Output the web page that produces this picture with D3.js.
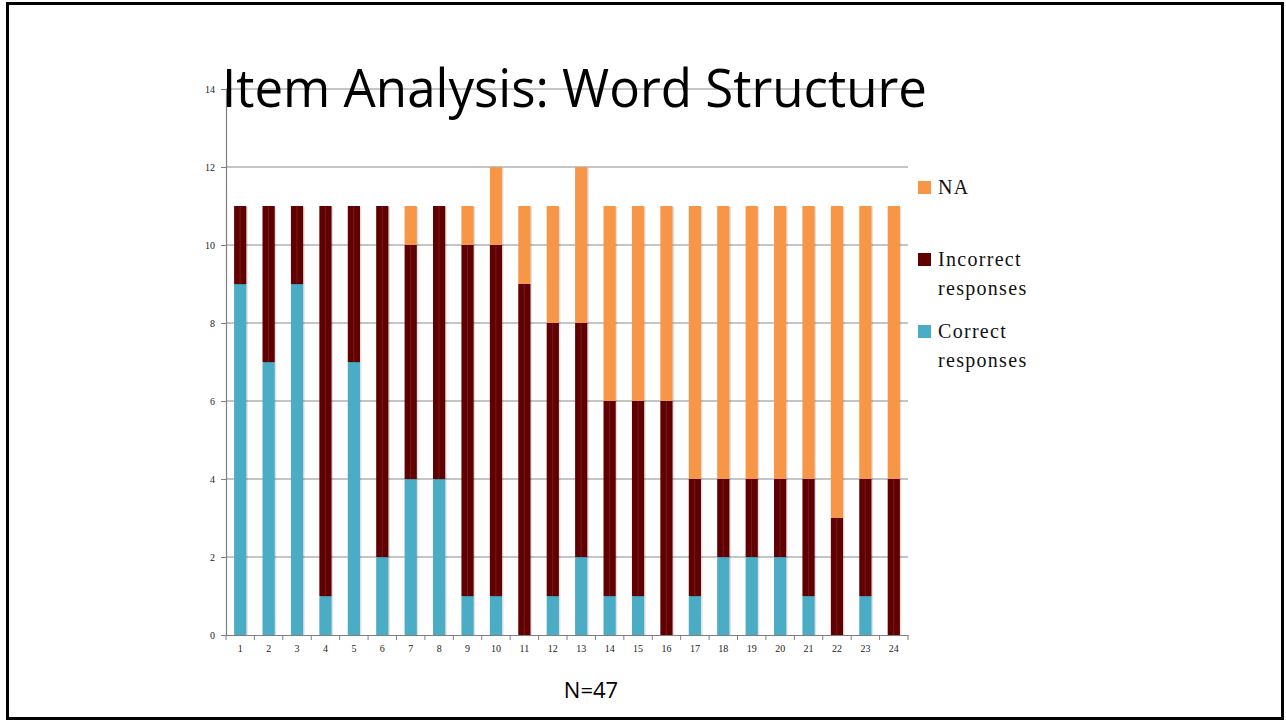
<!DOCTYPE html>
<html>
<head>
<meta charset="utf-8">
<script src="https://cdn.jsdelivr.net/npm/d3@7"></script>
<style>
  html, body { margin: 0; padding: 0; background: #fff; }
  svg { display: block; }
</style>
</head>
<body>
<svg id="chart" width="1286" height="721"></svg>
<script>
// Items on the word-structure test and the response counts for each
const items = ["1","2","3","4","5","6","7","8","9","10","11","12","13","14","15","16","17","18","19","20","21","22","23","24"];
const correct   = [9, 7, 9, 1, 7, 2, 4, 4, 1, 1, 0, 1, 2, 1, 1, 0, 1, 2, 2, 2, 1, 0, 1, 0];
const incorrect = [2, 4, 2, 10, 4, 9, 6, 7, 9, 9, 9, 7, 6, 5, 5, 6, 3, 2, 2, 2, 3, 3, 3, 4];
const na        = [0, 0, 0, 0, 0, 0, 1, 0, 1, 2, 2, 3, 4, 5, 5, 5, 7, 7, 7, 7, 7, 8, 7, 7];
const yTicks = [0, 2, 4, 6, 8, 10, 12, 14];

const seriesKeys   = ["correct", "incorrect", "na"];
const seriesNames  = { na: ["NA"], incorrect: ["Incorrect", "responses"], correct: ["Correct", "responses"] };
const seriesColors = { correct: "#4BACC6", incorrect: "#600000", na: "#F79646" };

const rows = items.map((item, i) => ({ item, correct: correct[i], incorrect: incorrect[i], na: na[i] }));

const svg = d3.select("#chart");

// slide frame
svg.append("rect")
  .attr("x", 7.5).attr("y", 3.5).attr("width", 1275).attr("height", 715)
  .attr("fill", "#fff").attr("stroke", "#000").attr("stroke-width", 3);

const plot = { left: 226, right: 908, top: 89, bottom: 635 };

const x = d3.scaleBand().domain(items).range([plot.left, plot.right]).paddingInner(0.57).paddingOuter(0.285);
const y = d3.scaleLinear().domain([0, 14]).range([plot.bottom, plot.top]);

// horizontal gridlines
svg.append("g").selectAll("line").data(yTicks.filter(d => d > 0)).join("line")
  .attr("x1", plot.left).attr("x2", plot.right)
  .attr("y1", d => y(d)).attr("y2", d => y(d))
  .attr("stroke", "#8c8c8c").attr("stroke-width", 1.2);

// stacked bars
const stacked = d3.stack().keys(seriesKeys)(rows);
const barG = svg.append("g");
stacked.forEach(layer => {
  const key = layer.key;
  const g = barG.append("g");
  // soft shadow to the right of each segment
  g.selectAll("rect.shadow").data(layer.filter(d => d[1] > d[0])).join("rect")
    .attr("class", "shadow")
    .attr("x", d => x(d.data.item) + 1.5)
    .attr("y", d => y(d[1]) + 1)
    .attr("width", x.bandwidth())
    .attr("height", d => y(d[0]) - y(d[1]))
    .attr("fill", "#000").attr("opacity", 0.12);
  g.selectAll("rect.seg").data(layer.filter(d => d[1] > d[0])).join("rect")
    .attr("class", "seg")
    .attr("x", d => x(d.data.item))
    .attr("y", d => y(d[1]))
    .attr("width", x.bandwidth())
    .attr("height", d => y(d[0]) - y(d[1]))
    .attr("fill", seriesColors[key]);
  if (key === "incorrect") {
    // faint highlight stripe on the dark segments
    g.selectAll("rect.stripe").data(layer.filter(d => d[1] > d[0])).join("rect")
      .attr("class", "stripe")
      .attr("x", d => x(d.data.item) + x.bandwidth() * 0.45)
      .attr("y", d => y(d[1]))
      .attr("width", 1)
      .attr("height", d => y(d[0]) - y(d[1]))
      .attr("fill", "#7a1a1a");
  }
});

// y axis
const yAxis = d3.axisLeft(y).tickValues(yTicks).tickSize(5).tickPadding(6);
const yg = svg.append("g").attr("transform", `translate(${plot.left},0)`).call(yAxis);
yg.select(".domain").attr("stroke", "#7f7f7f").attr("stroke-width", 1.2);
yg.selectAll(".tick line").attr("stroke", "#7f7f7f");
yg.selectAll(".tick text").attr("font-family", "Liberation Serif, serif").attr("font-size", 10).attr("fill", "#222");

// x axis with ticks between categories
const xAxis = d3.axisBottom(x).tickSize(0).tickPadding(10);
const xg = svg.append("g").attr("transform", `translate(0,${plot.bottom})`).call(xAxis);
xg.select(".domain").attr("stroke", "#7f7f7f").attr("stroke-width", 1.2);
xg.selectAll(".tick text").attr("font-family", "Liberation Serif, serif").attr("font-size", 10).attr("fill", "#222");
const step = x.step();
xg.selectAll("line.sep").data(d3.range(items.length + 1)).join("line")
  .attr("class", "sep")
  .attr("x1", i => plot.left + i * step).attr("x2", i => plot.left + i * step)
  .attr("y1", 0).attr("y2", 5)
  .attr("stroke", "#7f7f7f");

// title
svg.append("text")
  .attr("x", 222).attr("y", 107)
  .attr("font-family", "Open Sans, sans-serif")
  .attr("font-size", 53)
  .attr("textLength", 705).attr("lengthAdjust", "spacingAndGlyphs")
  .attr("fill", "#000")
  .text("Item Analysis: Word Structure");

// legend
const legendItems = [
  { key: "na", y: 181 },
  { key: "incorrect", y: 253 },
  { key: "correct", y: 325 }
];
const lg = svg.append("g");
legendItems.forEach(it => {
  lg.append("rect").attr("x", 918).attr("y", it.y).attr("width", 13).attr("height", 13)
    .attr("fill", seriesColors[it.key]);
  seriesNames[it.key].forEach((line, j) => {
    lg.append("text")
      .attr("x", 938).attr("y", it.y + 13 + j * 29)
      .attr("font-family", "Liberation Serif, serif")
      .attr("font-size", 20)
      .attr("letter-spacing", 1.3)
      .attr("fill", "#111")
      .text(line);
  });
});

// sample size note
svg.append("text")
  .attr("x", 591).attr("y", 698)
  .attr("text-anchor", "middle")
  .attr("font-family", "Open Sans, sans-serif")
  .attr("font-size", 22)
  .attr("fill", "#000")
  .text("N=47");
</script>
</body>
</html>
